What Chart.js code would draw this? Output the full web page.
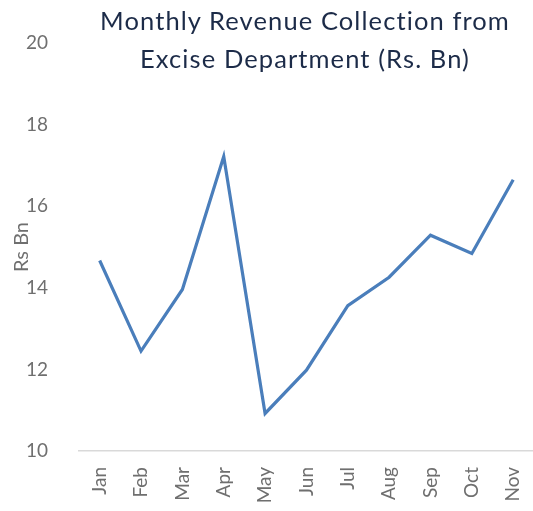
<!DOCTYPE html>
<html>
<head>
<meta charset="utf-8">
<script src="https://cdn.jsdelivr.net/npm/chart.js@4.4.0/dist/chart.umd.min.js"></script>
<style>
    html, body { margin: 0; padding: 0; background: #fff; overflow: hidden; }
    #wrap { position: relative; width: 552px; height: 511px; }
    #title {
        position: absolute; left: 90px; top: 1px; width: 430px;
        text-align: center; font-family: Lato, sans-serif; font-size: 25.5px;
        line-height: 38px; color: #1c2b48; letter-spacing: 1.1px;
    }
</style>
</head>
<body>
<div id="wrap">
    <canvas id="line-plot" width="552" height="511"></canvas>
    <div id="title">Monthly Revenue Collection from<br>Excise Department (Rs. Bn)</div>
</div>
<script>
const months = ['Jan', 'Feb', 'Mar', 'Apr', 'May', 'Jun', 'Jul', 'Aug', 'Sep', 'Oct', 'Nov'];
const revenue = [14.67, 12.45, 13.96, 17.22, 10.92, 11.98, 13.56, 14.26, 15.29, 14.84, 16.65];
const yTicks = [10, 12, 14, 16, 18, 20];

const grey = '#6f6f6f';
let ctx = document.getElementById('line-plot').getContext('2d');
let ch = new Chart(ctx, {
    type: 'line',
    data: {
        labels: months,
        datasets: [{
            label: 'Revenue',
            data: revenue,
            borderColor: '#4a7ebb',
            borderWidth: 3.2,
            pointRadius: 0,
            tension: 0,
            fill: false
        }]
    },
    options: {
        responsive: false,
        animation: false,
        layout: { padding: { top: 43, left: 10, right: 0, bottom: 0 } },
        plugins: {
            legend: { display: false },
            tooltip: { enabled: false }
        },
        scales: {
            x: {
                offset: true,
                grid: { display: false, drawTicks: false },
                border: { display: true, color: '#d9d9d9', width: 1.5 },
                ticks: {
                    color: grey,
                    font: { family: 'Lato', size: 19 },
                    maxRotation: 90,
                    minRotation: 90,
                    padding: 16
                },
                afterFit(scale) { scale.height = 60; }
            },
            y: {
                min: 10,
                max: 20,
                afterBuildTicks(scale) {
                    scale.ticks = yTicks.map(v => ({ value: v }));
                },
                grid: { display: false, drawTicks: false },
                border: { display: false },
                ticks: {
                    color: grey,
                    font: { family: 'Lato', size: 19 },
                    padding: 31
                },
                title: {
                    display: true,
                    text: 'Rs Bn',
                    color: grey,
                    font: { family: 'Lato', size: 20 },
                    padding: { top: 0, bottom: 0 }
                },
                afterFit(scale) { scale.width = 69; }
            }
        }
    }
});
</script>
</body>
</html>
